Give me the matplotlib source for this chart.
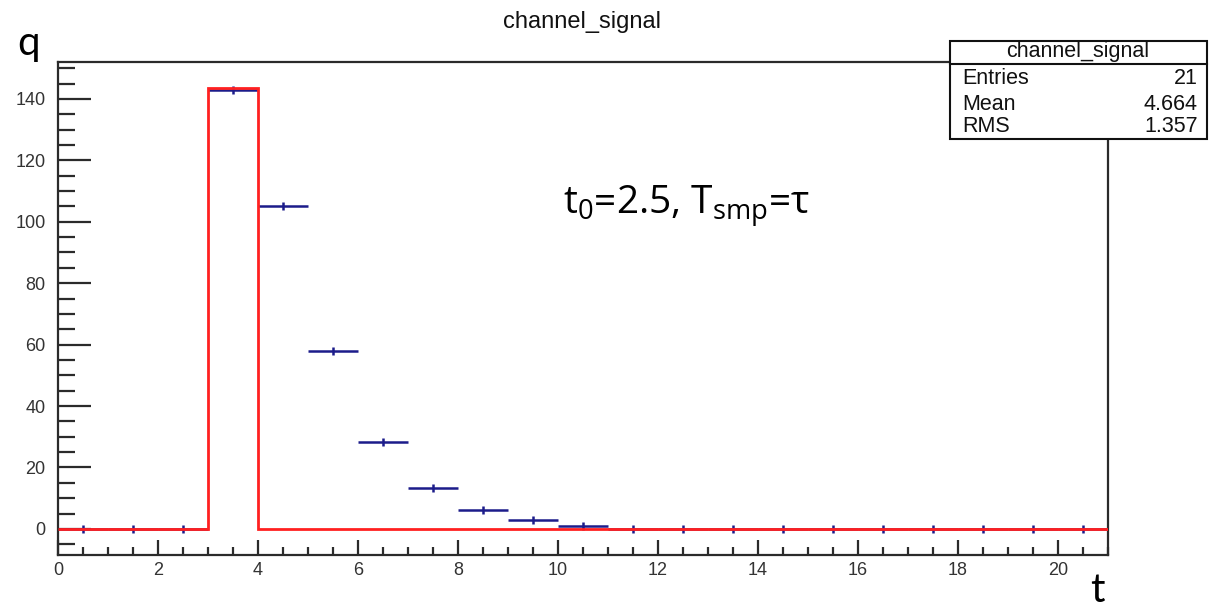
import matplotlib
matplotlib.use("Agg")
import matplotlib.pyplot as plt
from matplotlib.patches import Rectangle
from matplotlib.lines import Line2D
import numpy as np

# ---- data ----
bin_edges = list(range(0, 22))
bin_centers = [i + 0.5 for i in range(21)]
sampled_q = [0, 0, 0, 143, 105, 58, 28.3, 13.2, 6.0, 2.8, 1.0, 0.1,
             0, 0, 0, 0, 0, 0, 0, 0, 0]
sampled_err = [1.3] * 21
true_q = [0, 0, 0, 143.4, 0, 0, 0, 0, 0, 0, 0, 0, 0, 0, 0, 0, 0, 0, 0, 0, 0]

title = "channel_signal"
stats_labels = ["Entries", "Mean", "RMS"]
stats_values = ["21", "4.664", "1.357"]
annotation = r"$\mathregular{t_0}$=2.5, $\mathregular{T_{smp}}$=τ"

W, H = 1209, 608
fig = plt.figure(figsize=(W / 100, H / 100), dpi=100)
plt.rcParams['mathtext.fontset'] = 'custom'
plt.rcParams['mathtext.rm'] = 'Open Sans'

def fx(px):
    return px / W

def fy(py):
    return 1 - py / H

ax = fig.add_axes([fx(58), fy(555), fx(1108) - fx(58), fy(62) - fy(555)])
ax.set_xlim(0, 21)
ax.set_ylim(-8.5, 152)

frame_c = '#2b2b2b'
for s in ax.spines.values():
    s.set_linewidth(1.6)
    s.set_color(frame_c)

ax.set_xticks(np.arange(0, 21, 2))
ax.set_xticks(np.arange(0, 21.01, 0.5), minor=True)
ax.set_yticks(np.arange(0, 141, 20))
ax.set_yticks(np.arange(-5, 151, 5), minor=True)

ax.tick_params(axis='y', which='major', direction='in', length=24, width=1.6,
               color=frame_c, pad=9, labelsize=13, labelcolor='#333333')
ax.tick_params(axis='y', which='minor', direction='in', length=12, width=1.6, color=frame_c)
ax.tick_params(axis='x', which='major', direction='in', length=11, width=1.6,
               color=frame_c, pad=5, labelsize=13, labelcolor='#333333')
ax.tick_params(axis='x', which='minor', direction='in', length=6, width=1.6, color=frame_c)
for lab in ax.get_xticklabels() + ax.get_yticklabels():
    lab.set_fontfamily('Liberation Sans')

# sampled points with error bars
ax.errorbar(bin_centers, sampled_q, xerr=0.5, yerr=sampled_err, fmt='none',
            ecolor='#1c1c8a', elinewidth=1.8, capsize=0, zorder=2)

# true signal as red step histogram
ax.stairs(true_q, bin_edges, color='#ff2020', linewidth=2.0, zorder=3,
          baseline=None)

# title
fig.text(fx(582), fy(22), title, ha='center', va='center', fontsize=17,
         family='Liberation Sans', color='#111111')

# axis labels (large)
fig.text(fx(29), fy(44), "q", ha='center', va='center', fontsize=29,
         family='Lato', color='black')
fig.text(fx(1097), fy(590), "t", ha='center', va='center', fontsize=29,
         family='Lato', color='black')

# annotation
fig.text(fx(563), fy(206), annotation, ha='left', va='center', fontsize=28,
         family='Open Sans', color='black')

# stats box
box = Rectangle((fx(950), fy(139)), fx(1207) - fx(950), fy(41) - fy(139),
                transform=fig.transFigure, facecolor='white', edgecolor='#111111',
                linewidth=1.5, zorder=10)
fig.add_artist(box)
fig.add_artist(Line2D([fx(950), fx(1207)], [fy(64), fy(64)], transform=fig.transFigure,
                      color='#111111', linewidth=1.5, zorder=11))
fig.text(fx(1078), fy(52), title, ha='center', va='center', fontsize=15.5,
         family='Liberation Sans', color='#111111', zorder=12)
rows_y = [78, 104, 127]
for lab, val, yy in zip(stats_labels, stats_values, rows_y):
    fig.text(fx(962), fy(yy), lab, ha='left', va='center', fontsize=15.5,
             family='Liberation Sans', color='#111111', zorder=12)
    fig.text(fx(1198), fy(yy), val, ha='right', va='center', fontsize=15.5,
             family='Liberation Sans', color='#111111', zorder=12)

fig.savefig("out.png", dpi=100)
